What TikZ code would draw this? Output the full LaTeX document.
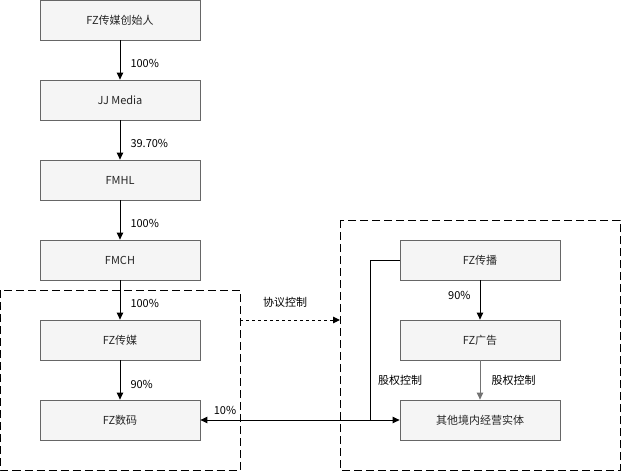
\documentclass[tikz,border=0pt]{standalone}
\usepackage{fontspec}
\setmainfont{Noto Sans CJK SC}
\usetikzlibrary{arrows.meta, calc}

\begin{document}
\begin{tikzpicture}[x=1pt, y=-1pt,
    box/.style={draw=black!60, fill=black!4, line width=0.8pt, minimum width=160pt, minimum height=40pt, inner sep=0pt, font=\fontsize{11}{13}\selectfont, text=black!85},
    lbl/.style={font=\fontsize{11}{13}\selectfont, inner sep=1pt},
    arr/.style={-{Triangle[length=7pt,width=6.5pt]}, line width=1pt},
    frame/.style={dashed, dash pattern=on 8pt off 4pt, line width=0.8pt}]
    \useasboundingbox (0,0) rectangle (621,471);

    % left column
    \node[box] (founder) at (120,20)  {FZ传媒创始人};
    \node[box] (jj)      at (120,100) {JJ Media};
    \node[box] (fmhl)    at (120,180) {FMHL};
    \node[box] (fmch)    at (120,260) {FMCH};
    \node[box] (media)   at (120,340) {FZ传媒};
    \node[box] (digital) at (120,420) {FZ数码};

    % right column
    \node[box] (spread)  at (480,260) {FZ传播};
    \node[box] (adv)     at (480,340) {FZ广告};
    \node[box] (others)  at (480,420) {其他境内经营实体};

    % dashed frames
    \draw[frame] (0.5,290) rectangle (240,470);
    \draw[frame] (340,220) rectangle (620,470);

    \draw[arr] (founder) -- (jj)      node[lbl, pos=0.6, right=9pt] {100\%};
    \draw[arr] (jj)      -- (fmhl)    node[lbl, pos=0.6, right=9pt] {39.70\%};
    \draw[arr] (fmhl)    -- (fmch)    node[lbl, pos=0.6, right=9pt] {100\%};
    \draw[arr] (fmch)    -- (media)   node[lbl, pos=0.58, right=9pt] {100\%};
    \draw[arr] (media)   -- (digital) node[lbl, pos=0.62, right=9pt] {90\%};

    \draw[arr] (spread) -- (adv) node[lbl, pos=0.38, left=8pt] {90\%};
    \draw[arr, draw=black!55] (adv) -- (others) node[lbl, midway, right=10pt] {股权控制};

    % agreement control
    \coordinate (ctrlA) at (240,320);
    \coordinate (ctrlB) at (340,320);
    \draw[arr, dashed, dash pattern=on 3pt off 3pt] (ctrlA) -- (ctrlB);
    \node[lbl] (agree) at (285,302) {协议控制};

    % equity lines
    \coordinate (joint) at (370,420);
    \draw[line width=1pt] (spread.west) -| (joint);
    \draw[{Triangle[length=7pt,width=6.5pt]}-{Triangle[length=7pt,width=6.5pt]}, line width=1pt] (digital.east) -- (others.west);
    \node[lbl] (tenpct) at (225,410) {10\%};
    \node[lbl] (equity) at (400,380) {股权控制};
\end{tikzpicture}
\end{document}
